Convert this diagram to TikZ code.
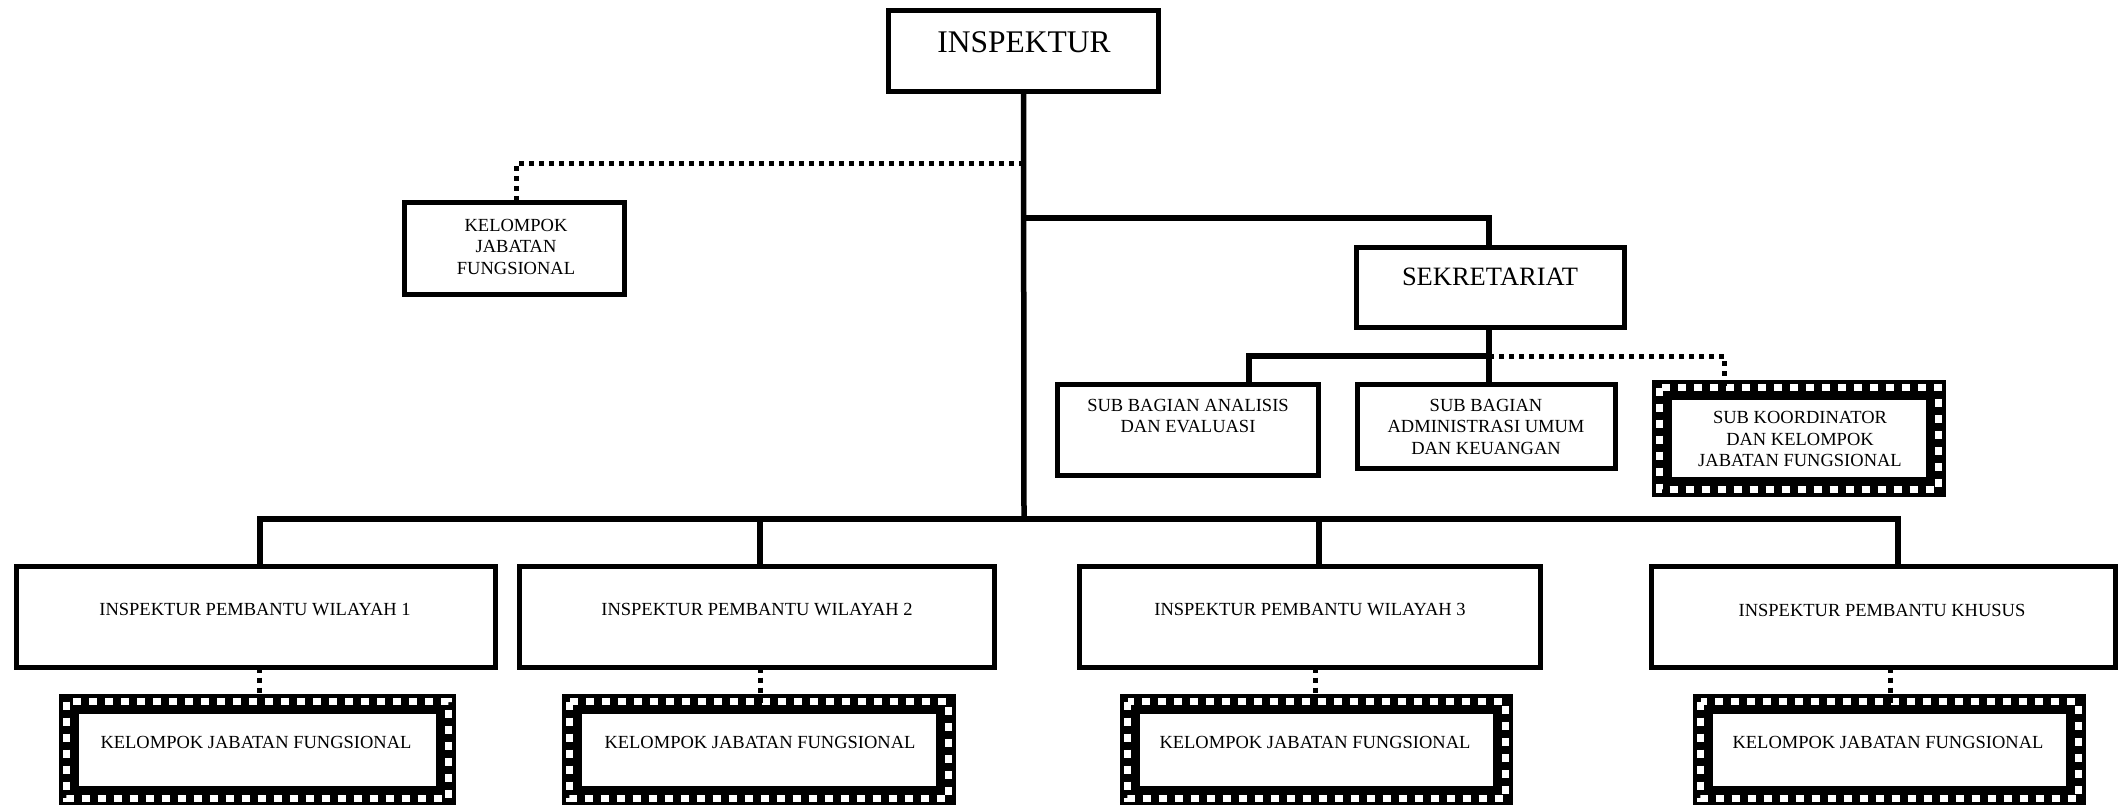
\documentclass[tikz,border=0pt]{standalone}
\usepackage{fontspec}
\setmainfont{Liberation Serif}
\begin{document}
\begin{tikzpicture}[x=1pt,y=-1pt,
  box/.style={draw=black, line width=5.5pt, fill=white, inner sep=0pt, outer sep=0pt},
  frame/.style={draw=black, line width=20pt, fill=white, inner sep=0pt, outer sep=0pt},
  whitedash/.style={draw=white, line width=6.5pt, dash pattern=on 8pt off 8pt},
  txt/.style={inner sep=0pt, align=center, font=\fontsize{18.5}{21.5}\selectfont},
  bigtxt/.style={inner sep=0pt, align=center},
  conn/.style={draw=black, line width=5.5pt},
  dotline/.style={draw=black, line width=5pt, dash pattern=on 5pt off 5pt}
]
\useasboundingbox (0,0) rectangle (2124,805);
\fill[white] (0,0) rectangle (2124,805);

% boxes
\node[box, minimum width=270pt, minimum height=81pt] (insp) at (1023.5,51) {};
\node[box, minimum width=220pt, minimum height=92pt] (kjft) at (514.5,248.5) {};
\node[box, minimum width=268pt, minimum height=80pt] (sek) at (1490.5,287.5) {};
\node[box, minimum width=261pt, minimum height=91pt] (sba) at (1188,430) {};
\node[box, minimum width=258pt, minimum height=84pt] (sbau) at (1486.5,426.5) {};
\node[frame, minimum width=274pt, minimum height=97pt] (sk) at (1799,438.5) {};
\node[box, minimum width=479pt, minimum height=101pt] (ipw1) at (256,617) {};
\node[box, minimum width=475pt, minimum height=101pt] (ipw2) at (757,617) {};
\node[box, minimum width=461pt, minimum height=101pt] (ipw3) at (1310,617) {};
\node[box, minimum width=464pt, minimum height=101pt] (ipk) at (1883.5,617) {};
\node[frame, minimum width=377pt, minimum height=92pt] (kjf1) at (257.5,750) {};
\node[frame, minimum width=374pt, minimum height=92pt] (kjf2) at (759,750) {};
\node[frame, minimum width=373pt, minimum height=92pt] (kjf3) at (1316.5,750) {};
\node[frame, minimum width=373pt, minimum height=92pt] (kjf4) at (1889.5,750) {};

% checkered white dashes in the frames, near the outer edge
\foreach \f in {sk,kjf1,kjf2,kjf3,kjf4}{
  \draw[whitedash] ([shift={(-2.5,-2.5)}]\f.north west) rectangle ([shift={(2.5,2.5)}]\f.south east);
}

% texts
\node[bigtxt, font=\fontsize{31.5}{36}\selectfont] (tinsp) at (1024,42.5) {INSPEKTUR};
\node[bigtxt, font=\fontsize{26.5}{30}\selectfont] (tsek) at (1490,276.5) {SEKRETARIAT};
\node[txt] (tkjft) at (516,246.5) {KELOMPOK\\JABATAN\\FUNGSIONAL};
\node[txt] (tsba) at (1188,416) {SUB BAGIAN ANALISIS\\DAN EVALUASI};
\node[txt] (tsbau) at (1486,426.5) {SUB BAGIAN\\ADMINISTRASI UMUM\\DAN KEUANGAN};
\node[txt] (tsk) at (1800,439) {SUB KOORDINATOR\\DAN KELOMPOK\\JABATAN FUNGSIONAL};
\node[txt] (tipw1) at (255,610) {INSPEKTUR PEMBANTU WILAYAH 1};
\node[txt] (tipw2) at (757,610) {INSPEKTUR PEMBANTU WILAYAH 2};
\node[txt] (tipw3) at (1310,610) {INSPEKTUR PEMBANTU WILAYAH 3};
\node[txt] (tipk) at (1882,610) {INSPEKTUR PEMBANTU KHUSUS};
\node[txt] (tk1) at (256,742) {KELOMPOK JABATAN FUNGSIONAL};
\node[txt] (tk2) at (760,742) {KELOMPOK JABATAN FUNGSIONAL};
\node[txt] (tk3) at (1315,742) {KELOMPOK JABATAN FUNGSIONAL};
\node[txt] (tk4) at (1888,742) {KELOMPOK JABATAN FUNGSIONAL};

% junction coordinates
\coordinate (bus) at (1024,519);
\coordinate (b1) at (260,519);
\coordinate (b2) at (760,519);
\coordinate (b3) at (1319,519);
\coordinate (b4) at (1898,519);
\coordinate (d1) at (1024,164);
\coordinate (s1) at (1024,218);
\coordinate (s2) at (1489,356);

% connectors
\draw[conn] (insp.south) -- (bus);
\draw[conn] (b1 |- ipw1.north) -- (b1) -- (b4) -- (b4 |- ipk.north);
\draw[conn] (b2) -- (b2 |- ipw2.north);
\draw[conn] (b3) -- (b3 |- ipw3.north);
\draw[conn] (s1) -| (s2 |- sek.north);
\draw[conn] (s2 |- sek.south) -- (s2);
\draw[conn] (s2) -| ([xshift=61pt]sba.north);
\draw[conn] (s2) -- (s2 |- sbau.north);
\draw[dotline] (d1) -| ([xshift=1.5pt]kjft.north);
\draw[dotline] (s2) -| ([xshift=-75pt,yshift=-10pt]sk.north);
\draw[dotline] ([xshift=1.5pt]kjf1.north |- ipw1.south) -- ([xshift=1.5pt,yshift=-10pt]kjf1.north);
\draw[dotline] ([xshift=1pt]kjf2.north |- ipw2.south) -- ([xshift=1pt,yshift=-10pt]kjf2.north);
\draw[dotline] ([xshift=-1.5pt]kjf3.north |- ipw3.south) -- ([xshift=-1.5pt,yshift=-10pt]kjf3.north);
\draw[dotline] ([xshift=0.5pt]kjf4.north |- ipk.south) -- ([xshift=0.5pt,yshift=-10pt]kjf4.north);
\end{tikzpicture}
\end{document}
